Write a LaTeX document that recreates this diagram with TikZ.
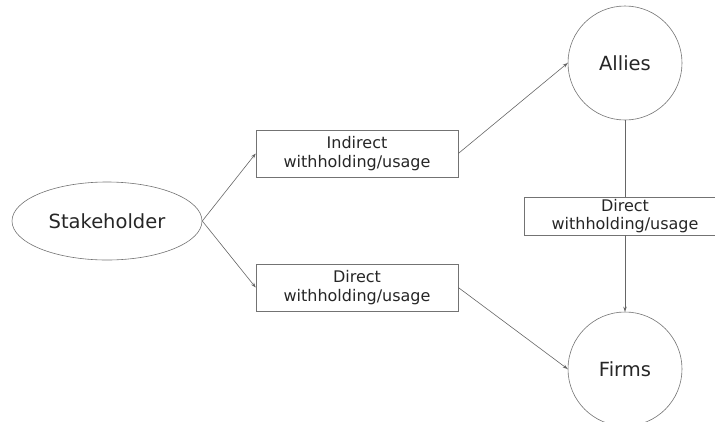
\documentclass[tikz,border=0pt]{standalone}
\usepackage{fontspec}
\setmainfont{DejaVu Sans}
\usetikzlibrary{arrows.meta,shapes.geometric}

\begin{document}
\begin{tikzpicture}[x=1pt,y=-1pt,
  every node/.style={draw=black!55,line width=.6pt,text=black!85,inner sep=0pt},
  actor/.style={circle,minimum size=114pt,font=\fontsize{19.5}{22}\selectfont},
  flowbox/.style={rectangle,minimum width=202pt,align=center,font=\fontsize{16}{18.3}\selectfont},
  link/.style={draw=black!60,line width=.6pt,-{Stealth[length=5pt,width=3.5pt]}}]
\clip (0,0) rectangle (715,421);
\node[ellipse,minimum width=190pt,minimum height=78pt,font=\fontsize{19.5}{22}\selectfont] (stake) at (107,221) {Stakeholder};
\node[flowbox,minimum height=47pt] (indirect) at (357,153.5) {Indirect\\withholding/usage};
\node[flowbox,minimum height=47pt] (directL) at (357,287.5) {Direct\\withholding/usage};
\node[actor] (allies) at (625,63) {Allies};
\node[actor] (firms) at (625,369) {Firms};
\node[flowbox,minimum height=38pt] (directR) at (625,216) {Direct\\withholding/usage};
\draw[link] (stake.east) -- (indirect.west);
\draw[link] (stake.east) -- (directL.west);
\draw[link] (indirect.east) -- (allies.west);
\draw[link] (directL.east) -- (firms.west);
\draw[draw=black!60,line width=.6pt] (allies) -- (directR);
\draw[link] (directR) -- (firms);
\end{tikzpicture}
\end{document}
